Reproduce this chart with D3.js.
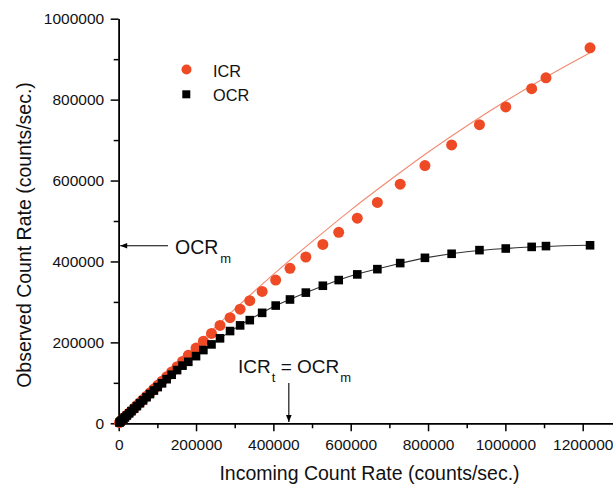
<!DOCTYPE html>
<html lang="en">
<head>
<meta charset="UTF-8">
<title>ICR / OCR</title>
<script src="https://d3js.org/d3.v7.min.js"></script>
<style>
    body { margin: 0; background: #fff; }
    svg { display: block; font-family: "Liberation Sans", Arial, Helvetica, sans-serif; }
    .axis path, .axis line { stroke: #000; stroke-width: 1.5px; }
    .axis text { font-size: 15.5px; fill: #111; font-family: "Liberation Sans", Arial, sans-serif; }
</style>
</head>
<body>
<svg width="613" height="484"></svg>
<script>
    // incoming count rate (x), shared by both series
    const icrIn = [2000, 5000, 8000, 12000, 16000, 21000, 27000, 33000, 40000, 47000,
        55000, 63000, 72000, 81000, 91000, 101000, 112000, 124000, 137000, 151000,
        165000, 180000, 200000, 219000, 240000, 262000, 288000,
        314000, 339000, 371000, 406000, 443000, 484000, 528000, 569000, 617000, 669000,
        728000, 792000, 861000, 933000, 1001000, 1068000, 1105000, 1219000];
    // observed ICR (circles)
    const icrObs = [1860, 4650, 7440, 11200, 14900, 19500, 25100, 30700, 37200, 43700,
        51100, 58600, 66900, 75300, 84600, 93900, 104000, 115000, 127000, 140000,
        153000, 168000, 186000, 203000, 222000, 242000, 261000,
        282000, 303000, 326000, 354000, 383000, 411000, 442000, 472000, 507000, 546000,
        591000, 637000, 688000, 738000, 782000, 827000, 854000, 928000];
    // observed OCR (squares)
    const ocrObs = [1840, 4600, 7350, 11000, 14650, 19200, 24600, 30000, 36300, 42500,
        49600, 56600, 64500, 72300, 80900, 89500, 98800, 109000, 120000, 131500,
        142500, 152000, 166000, 181000, 195000, 210000, 228000,
        242000, 255000, 273000, 291000, 306000, 323000, 340000, 354000, 368000, 381000,
        396000, 409000, 419000, 428000, 432000, 436000, 438000, 440000];
    // fitted curves
    const fitX = [0, 100000, 200000, 300000, 400000, 500000, 600000, 700000, 800000, 900000, 1000000, 1100000, 1219000];
    const icrFit = [0, 98000, 192000, 282000, 368000, 449000, 527000, 600000, 670000, 735000, 796000, 853000, 916000];
    const ocrFit = [0, 88000, 166000, 234000, 288000, 329000, 364000, 389000, 410000, 424000, 432000, 437000, 440000];

    const xMajor = [0, 200000, 400000, 600000, 800000, 1000000, 1200000];
    const xMinor = [100000, 300000, 500000, 700000, 900000, 1100000];
    const yMajor = [0, 200000, 400000, 600000, 800000, 1000000];
    const yMinor = [100000, 300000, 500000, 700000, 900000];

    const ocrM = 440000; // OCR_m = ICR_t

    const svg = d3.select("svg");
    const red = "#ee4a25";

    const x = d3.scaleLinear().domain([0, 1280000]).range([118.7, 118.7 + 1280000 * 464 / 1200000]);
    const y = d3.scaleLinear().domain([0, 1000000]).range([423.3, 18.7]);

    // axes
    svg.append("g").attr("class", "axis")
        .attr("transform", "translate(0,423.3)")
        .call(d3.axisBottom(x).tickValues(xMinor).tickSize(5).tickSizeOuter(0).tickFormat(""));
    svg.append("g").attr("class", "axis")
        .attr("transform", "translate(0,423.3)")
        .call(d3.axisBottom(x).tickValues(xMajor).tickSize(8).tickSizeOuter(0).tickPadding(7.5).tickFormat(d3.format("d")));
    svg.append("g").attr("class", "axis")
        .attr("transform", "translate(118.7,0)")
        .call(d3.axisLeft(y).tickValues(yMinor).tickSize(5).tickSizeOuter(0).tickFormat(""));
    svg.append("g").attr("class", "axis")
        .attr("transform", "translate(118.7,0)")
        .call(d3.axisLeft(y).tickValues(yMajor).tickSize(8).tickSizeOuter(0).tickPadding(6.5).tickFormat(d3.format("d")));

    // axis titles
    svg.append("text")
        .attr("x", 369.5).attr("y", 480)
        .attr("text-anchor", "middle")
        .style("font-size", "19.5px").style("fill", "#111")
        .text("Incoming Count Rate (counts/sec.)");
    svg.append("text")
        .attr("transform", "translate(30.5,235) rotate(-90)")
        .attr("text-anchor", "middle")
        .style("font-size", "19.5px").style("fill", "#111")
        .text("Observed Count Rate (counts/sec.)");

    // fit lines
    const line = d3.line().x(d => x(d[0])).y(d => y(d[1])).curve(d3.curveMonotoneX);
    svg.append("path")
        .attr("d", line(fitX.map((v, i) => [v, icrFit[i]])))
        .attr("fill", "none").attr("stroke", "#f08a70").attr("stroke-width", 1.1);
    svg.append("path")
        .attr("d", line(fitX.map((v, i) => [v, ocrFit[i]])))
        .attr("fill", "none").attr("stroke", "#333").attr("stroke-width", 1.1);

    // markers
    svg.selectAll(".icr")
        .data(icrIn.map((v, i) => [v, icrObs[i]]))
        .enter().append("circle")
        .attr("class", "icr")
        .attr("cx", d => x(d[0]))
        .attr("cy", d => y(d[1]))
        .attr("r", 5.5)
        .attr("fill", red);

    const sq = 8.6;
    svg.selectAll(".ocr")
        .data(icrIn.map((v, i) => [v, ocrObs[i]]))
        .enter().append("rect")
        .attr("class", "ocr")
        .attr("x", d => x(d[0]) - sq / 2)
        .attr("y", d => y(d[1]) - sq / 2)
        .attr("width", sq).attr("height", sq)
        .attr("fill", "#000");

    // legend
    svg.append("circle").attr("cx", 186.5).attr("cy", 69.5).attr("r", 5).attr("fill", red);
    svg.append("text").attr("x", 213).attr("y", 76.5).style("font-size", "16.3px").style("fill", "#111").text("ICR");
    svg.append("rect").attr("x", 182.3).attr("y", 90.3).attr("width", 8).attr("height", 8).attr("fill", "#000");
    svg.append("text").attr("x", 213).attr("y", 100.5).style("font-size", "16.3px").style("fill", "#111").text("OCR");

    // arrow marker
    svg.append("defs").append("marker")
        .attr("id", "arr")
        .attr("viewBox", "0 0 10 10")
        .attr("refX", 10).attr("refY", 5)
        .attr("markerWidth", 10).attr("markerHeight", 7)
        .attr("markerUnits", "userSpaceOnUse")
        .attr("orient", "auto")
        .append("path").attr("d", "M0,1 L10,5 L0,9 Z").attr("fill", "#000");

    // OCR_m annotation
    svg.append("line")
        .attr("x1", 168).attr("x2", x(0) + 1.5)
        .attr("y1", y(ocrM) + 0.5).attr("y2", y(ocrM) + 0.5)
        .attr("stroke", "#000").attr("stroke-width", 1.1)
        .attr("marker-end", "url(#arr)");
    const t1 = svg.append("text").attr("x", 175).attr("y", 254).style("font-size", "19.5px").style("fill", "#111");
    t1.append("tspan").text("OCR");
    t1.append("tspan").attr("dx", 2).attr("dy", 9).style("font-size", "13px").text("m");

    // ICR_t = OCR_m annotation
    svg.append("line")
        .attr("x1", x(ocrM)).attr("x2", x(ocrM))
        .attr("y1", 383).attr("y2", 422)
        .attr("stroke", "#000").attr("stroke-width", 1.1)
        .attr("marker-end", "url(#arr)");
    const t2 = svg.append("text").attr("x", 238).attr("y", 373.3).style("font-size", "19px").style("fill", "#111");
    t2.append("tspan").text("ICR");
    t2.append("tspan").attr("dx", 1).attr("dy", 9).style("font-size", "13px").text("t");
    t2.append("tspan").attr("dy", -9).text("\u00a0=\u00a0OCR");
    t2.append("tspan").attr("dx", 1).attr("dy", 9).style("font-size", "13px").text("m");
</script>
</body>
</html>
